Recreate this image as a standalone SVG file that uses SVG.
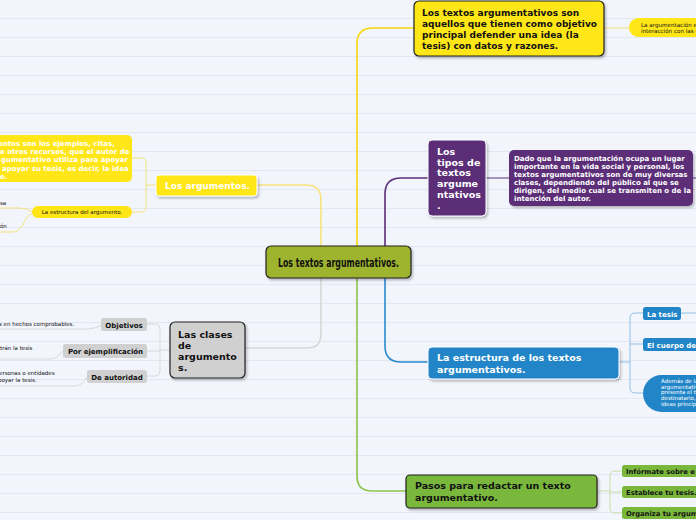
<svg xmlns="http://www.w3.org/2000/svg" width="696" height="520" viewBox="0 0 696 520">
<defs>
<pattern id="bg" width="696" height="19" patternUnits="userSpaceOnUse">
<rect width="696" height="19" fill="#f3f5fd"/>
<line x1="0" y1="18.5" x2="696" y2="18.5" stroke="#e3e7f2" stroke-width="1"/>
</pattern>
<filter id="sh" x="-10%" y="-10%" width="130%" height="140%">
<feDropShadow dx="1.5" dy="2" stdDeviation="1" flood-color="#000" flood-opacity="0.25"/>
</filter>
</defs>
<style>
.b{font-family:"DejaVu Sans",Verdana,sans-serif;font-weight:bold}
.r{font-family:"DejaVu Sans",Verdana,sans-serif}
.w{fill:#ffffff}
.k{fill:#111111}
.c{fill:none;stroke-width:1.6;stroke-linecap:round;stroke-linejoin:round}
.t{fill:none;stroke-width:1;stroke-linejoin:round}
</style>
<rect width="696" height="520" fill="url(#bg)"/>

<g id="connectors">
<path class="c" stroke="#f5d90a" d="M357,246 V44 Q357,28 373,28 H414"/>
<path class="c" stroke="#f6e27c" d="M321,246 V200 Q321,185 306,185 H257"/>
<path class="c" stroke="#5b2e78" d="M385,246 V194 Q385,178 401,178 H428"/>
<path class="c" stroke="#d8d8d8" d="M321,278 V334 Q321,348 307,348 H245"/>
<path class="c" stroke="#2a8ad0" d="M385,278 V346 Q385,362 401,362 H428"/>
<path class="c" stroke="#8cc34a" d="M357,278 V476 Q357,491 372,491 H406"/>
<path class="t" stroke="#f6e27c" d="M604,28 H629"/>
<path class="t" stroke="#f6e27c" d="M156,185 H146 M132,158 H141 Q146,158 146,163 V207 Q146,212 141,212 H132"/>
<path class="t" stroke="#f6e27c" d="M33,212 Q26,208 20,208 H0 M33,213 Q28,214 22,226 Q19,232 12,232 H0"/>
<path class="t" stroke="#d8d8d8" d="M170,350 H160 M147,324 H155 Q160,324 160,329 V371 Q160,376 155,376 H147 M147,351 H160"/>
<path class="t" stroke="#d8d8d8" d="M102,325 Q94,329 88,329 H0 M63,351 Q57,359 50,359 H0 M87,377 Q82,386 75,386 H0"/>
<path class="t" stroke="#5b2e78" d="M486,178 H509 M693,178 H696"/>
<path class="t" stroke="#8fc0e6" d="M619,362 H630 M643,313 H635 Q630,313 630,318 V388 Q630,393 635,393 H643 M630,344 H643 M681,313 H696"/>
<path class="t" stroke="#c6e0a8" d="M597,491 H610 M622,471 H615 Q610,471 610,476 V508 Q610,513 615,513 H622 M610,492 H622"/>
</g>

<g id="central">
<rect x="266" y="246" width="145" height="32" rx="5" fill="#9fb42e" stroke="#222" stroke-width="1.2" filter="url(#sh)"/>
<text x="338.5" y="266.5" text-anchor="middle" font-family="DejaVu Sans Condensed,DejaVu Sans,sans-serif" font-weight="bold" font-size="12.5" textLength="121" lengthAdjust="spacingAndGlyphs" fill="#111">Los textos argumentativos.</text>
</g>

<g id="top-node">
<rect x="414" y="1" width="190" height="55" rx="5" fill="#ffe617" stroke="#222" stroke-width="1.2" filter="url(#sh)"/>
<text class="b k" font-size="9" x="422"><tspan y="16">Los textos argumentativos son</tspan><tspan x="422" y="27">aquellos que tienen como objetivo</tspan><tspan x="422" y="38">principal defender una idea (la</tspan><tspan x="422" y="49">tesis) con datos y razones.</tspan></text>
</g>

<g id="top-right">
<rect x="629" y="18" width="90" height="19" rx="9.5" fill="#ffe617"/>
<text class="r k" font-size="5.6" x="641"><tspan y="27">La argumentación e</tspan><tspan x="641" y="33">interacción con las c</tspan></text>
</g>

<g id="argumentos">
<rect x="156" y="175" width="101" height="21" rx="3" fill="#ffe617" stroke="#fff" stroke-width="1" filter="url(#sh)"/>
<text class="b w" font-size="9" x="165" y="189">Los argumentos.</text>
</g>

<g id="argumentos-def">
<rect x="-10" y="135" width="142" height="47" rx="5" fill="#ffe617"/>
<text class="b w" font-size="7" x="-2"><tspan y="145.5">entos son los ejemplos, citas,</tspan><tspan x="0" y="153.5">e otros recursos, que el autor de</tspan><tspan x="1" y="162">gumentativo utiliza para apoyar</tspan><tspan x="2" y="170.5">apoyar su tesis, es decir, la idea</tspan><tspan x="0" y="179">e.</tspan></text>
</g>

<g id="estructura-arg">
<rect x="32" y="206" width="100" height="12" rx="6" fill="#ffe617"/>
<text class="r k" font-size="5.5" x="82" y="214" text-anchor="middle">La estructura del argumento.</text>
</g>
<g id="estr-sub1"><text class="r k" font-size="5.5" x="0" y="205">sa</text></g>
<g id="estr-sub2"><text class="r k" font-size="5.5" x="0" y="228">ón</text></g>

<g id="clases">
<rect x="170" y="322" width="75" height="56" rx="5" fill="#d0d0d0" stroke="#222" stroke-width="1.2" filter="url(#sh)"/>
<text class="b k" font-size="9.5" x="178"><tspan y="338">Las clases</tspan><tspan x="178" y="349">de</tspan><tspan x="178" y="360">argumento</tspan><tspan x="178" y="371">s.</tspan></text>
</g>

<g id="objetivos">
<rect x="101" y="318" width="46" height="13" rx="2.5" fill="#d0d0d0"/>
<text class="b k" font-size="7" x="124" y="327.5" text-anchor="middle">Objetivos</text>
</g>
<g id="ejemplificacion">
<rect x="63" y="344" width="84" height="14" rx="2.5" fill="#d0d0d0"/>
<text class="b k" font-size="7" x="105.5" y="354" text-anchor="middle">Por ejemplificación</text>
</g>
<g id="autoridad">
<rect x="87" y="370" width="60" height="13" rx="2.5" fill="#d0d0d0"/>
<text class="b k" font-size="7" x="117" y="379.5" text-anchor="middle">De autoridad</text>
</g>
<g id="obj-sub"><text class="r k" font-size="5.5" x="-1" y="326">s en hechos comprobables.</text></g>
<g id="ejem-sub"><text class="r k" font-size="5.5" x="0" y="350">trán la tesis</text></g>
<g id="aut-sub"><text class="r k" font-size="5.5" x="-1"><tspan y="375">ersonas o entidades</tspan><tspan x="-2" y="382">poyar la tesis.</tspan></text></g>

<g id="tipos">
<rect x="428" y="140" width="58" height="76" rx="4" fill="#5b2e78" stroke="#fff" stroke-width="1" filter="url(#sh)"/>
<text class="b w" font-size="9.5" x="437"><tspan y="154.5">Los</tspan><tspan x="437" y="165.5">tipos de</tspan><tspan x="437" y="176">textos</tspan><tspan x="437" y="187">argume</tspan><tspan x="437" y="198">ntativos</tspan><tspan x="437" y="208.5">.</tspan></text>
</g>

<g id="tipos-def">
<rect x="509" y="150" width="184" height="56" rx="5" fill="#5b2e78" filter="url(#sh)"/>
<text class="b w" font-size="7" x="514"><tspan y="160.5">Dado que la argumentación ocupa un lugar</tspan><tspan x="514" y="169">importante en la vida social y personal, los</tspan><tspan x="514" y="177">textos argumentativos son de muy diversas</tspan><tspan x="514" y="185">clases, dependiendo del público al que se</tspan><tspan x="514" y="193">dirigen, del medio cual se transmiten o de la</tspan><tspan x="514" y="201">intención del autor.</tspan></text>
</g>

<g id="estructura">
<rect x="428" y="347" width="191" height="32" rx="4" fill="#2185c8" stroke="#fff" stroke-width="1" filter="url(#sh)"/>
<text class="b w" font-size="9.5" x="437"><tspan y="360.5">La estructura de los textos</tspan><tspan x="437" y="372.5">argumentativos.</tspan></text>
</g>
<g id="tesis">
<rect x="643" y="307" width="38" height="13" rx="2.5" fill="#2185c8"/>
<text class="b w" font-size="7" x="647" y="316.5">La tesis</text>
</g>
<g id="cuerpo">
<rect x="643" y="338" width="70" height="13" rx="2.5" fill="#2185c8"/>
<text class="b w" font-size="7" x="647" y="347.5">El cuerpo de</text>
</g>
<g id="ademas">
<rect x="643" y="375" width="90" height="37" rx="18.5" fill="#2185c8"/>
<text class="r w" font-size="5.5" x="661"><tspan y="383">Además de la</tspan><tspan x="661" y="388.5">argumentativa</tspan><tspan x="661" y="394">presenta el t</tspan><tspan x="661" y="399.5">destinatario,</tspan><tspan x="661" y="405.5">ideas principa</tspan></text>
</g>

<g id="pasos">
<rect x="406" y="475" width="191" height="33" rx="4" fill="#7ab83c" stroke="#222" stroke-width="1.2" filter="url(#sh)"/>
<text class="b k" font-size="9.5" x="415"><tspan y="489">Pasos para redactar un texto</tspan><tspan x="415" y="500.5">argumentativo.</tspan></text>
</g>
<g id="informate">
<rect x="622" y="465" width="90" height="12" rx="2.5" fill="#7ab83c"/>
<text class="b k" font-size="6.8" x="626" y="474">Infórmate sobre e</text>
</g>
<g id="establece">
<rect x="622" y="486" width="90" height="12" rx="2.5" fill="#7ab83c"/>
<text class="b k" font-size="6.8" x="626" y="495">Establece tu tesis.</text>
</g>
<g id="organiza">
<rect x="622" y="507" width="90" height="12" rx="2.5" fill="#7ab83c"/>
<text class="b k" font-size="6.8" x="626" y="516">Organiza tu argum</text>
</g>
</svg>
